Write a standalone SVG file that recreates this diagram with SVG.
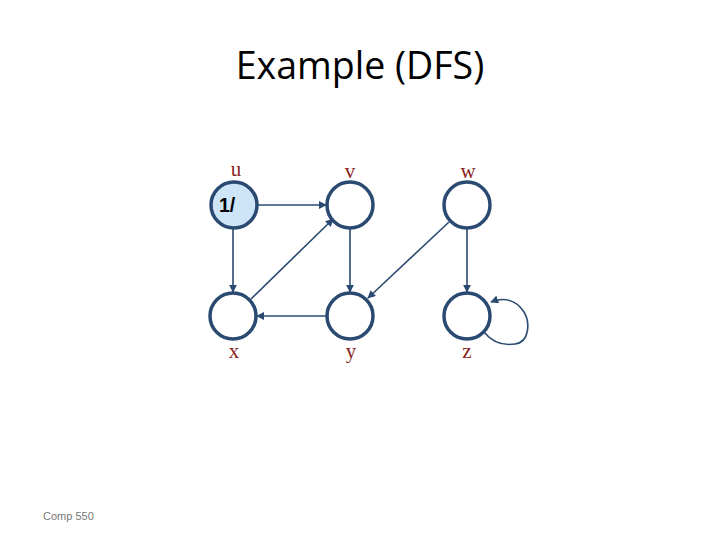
<svg xmlns="http://www.w3.org/2000/svg" width="720" height="540" viewBox="0 0 720 540">
<style>
.node{fill:#fff;stroke:#2b4a72;stroke-width:3.5}
.lbl{font-family:"Liberation Serif",serif;font-size:21px;fill:#8b1e1e;text-anchor:middle}
.edge{stroke:#2b4a72;stroke-width:1.6;fill:none;marker-end:url(#ah)}
</style>
<defs>
<marker id="ah" viewBox="0 0 10 10" refX="9" refY="5" markerWidth="5" markerHeight="5" orient="auto" markerUnits="strokeWidth">
<path d="M0,0 L10,5 L0,10 z" fill="#2b4a72"/>
</marker>
</defs>
<rect width="720" height="540" fill="#fff"/>
<text x="360" y="79" font-family="'Open Sans','Liberation Sans',sans-serif" font-size="37.5" text-anchor="middle" fill="#000">Example (DFS)</text>
<g id="edges">
<line class="edge" x1="258" y1="205" x2="326" y2="205"/>
<line class="edge" x1="233" y1="229" x2="233" y2="292"/>
<line class="edge" x1="251" y1="299" x2="333" y2="219"/>
<line class="edge" x1="350" y1="229" x2="350" y2="292"/>
<line class="edge" x1="326" y1="316" x2="257" y2="316"/>
<line class="edge" x1="449" y1="222" x2="368" y2="298"/>
<line class="edge" x1="467" y1="229" x2="467" y2="292"/>
<path class="edge" d="M484,332 C492,342 502,346 515,344 C530,342 530,322 524,312 C516,300 504,297 491,302"/>
</g>
<g id="u"><circle class="node" cx="234" cy="205" r="23" style="fill:#cde5f7"/><text class="lbl" x="236" y="176">u</text><text x="219" y="212" font-family="'Liberation Sans',sans-serif" font-size="19.5" font-weight="bold" fill="#000">1/</text></g>
<g id="v"><circle class="node" cx="350" cy="205" r="23"/><text class="lbl" x="350" y="178">v</text></g>
<g id="w"><circle class="node" cx="467" cy="205" r="23"/><text class="lbl" x="468" y="178">w</text></g>
<g id="x"><circle class="node" cx="233" cy="316" r="23"/><text class="lbl" x="234" y="358">x</text></g>
<g id="y"><circle class="node" cx="350" cy="316" r="23"/><text class="lbl" x="351" y="358">y</text></g>
<g id="z"><circle class="node" cx="467" cy="316" r="23"/><text class="lbl" x="467" y="358">z</text></g>
<text x="43" y="520" font-family="'Liberation Sans',sans-serif" font-size="11" fill="#777">Comp 550</text>
</svg>
